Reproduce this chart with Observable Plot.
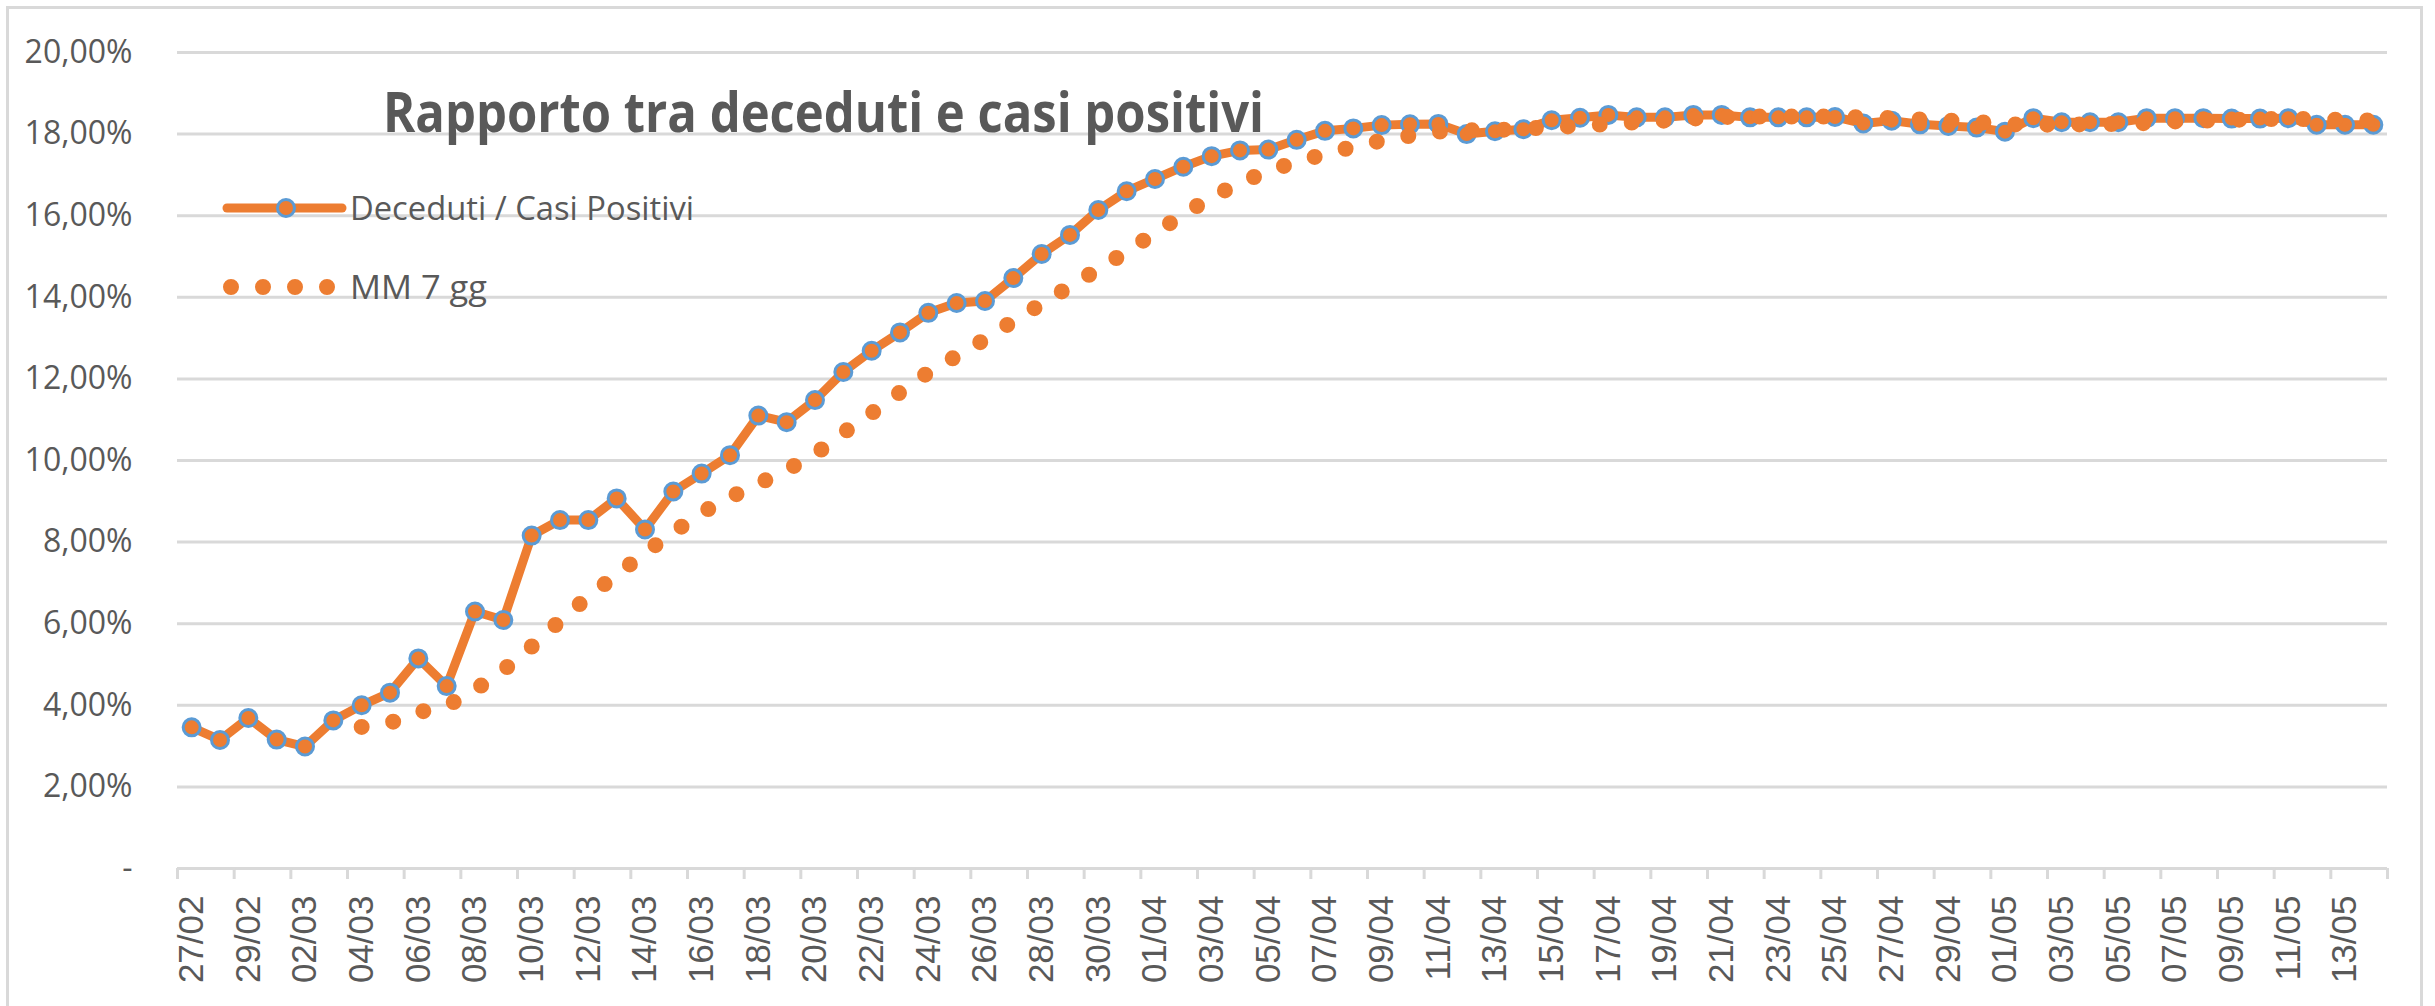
<!DOCTYPE html>
<html><head><meta charset="utf-8">
<script src="https://cdn.jsdelivr.net/npm/d3@7"></script>
<script src="https://cdn.jsdelivr.net/npm/@observablehq/plot@0.6"></script>
<style>
html,body{margin:0;padding:0;background:#fff;}
#wrap{position:relative;width:2435px;height:1006px;overflow:hidden;background:#fff;}
#border{position:absolute;left:6px;top:6px;width:2417px;height:1100px;border:3px solid #D9D9D9;box-sizing:border-box;}
#chart{position:absolute;left:0;top:0;}
#overlay{position:absolute;left:0;top:0;}
</style></head><body>
<div id="wrap">
  <div id="border"></div>
  <div id="chart"></div>
  <svg id="overlay" width="2435" height="1006">
    <text x="383" y="132" font-family="Open Sans" font-weight="700" font-size="56" fill="#595959" textLength="881" lengthAdjust="spacingAndGlyphs">Rapporto tra deceduti e casi positivi</text>
    <line x1="227" y1="208" x2="342" y2="208" stroke="#ED7D31" stroke-width="9" stroke-linecap="round"/>
    <circle cx="286" cy="208" r="8.5" fill="#ED7D31" stroke="#5B9BD5" stroke-width="3"/>
    <text x="350" y="220" font-family="Open Sans" font-size="32" fill="#595959" textLength="344" lengthAdjust="spacingAndGlyphs">Deceduti / Casi Positivi</text>
    <line x1="231" y1="287" x2="330" y2="287" stroke="#ED7D31" stroke-width="16" stroke-linecap="round" stroke-dasharray="0 32"/>
    <text x="350" y="299" font-family="Open Sans" font-size="32" fill="#595959" textLength="137" lengthAdjust="spacingAndGlyphs">MM 7 gg</text>
  </svg>
</div>
<script>
const dates = [
  "27/02","28/02","29/02",
  "01/03","02/03","03/03","04/03","05/03","06/03","07/03","08/03","09/03","10/03",
  "11/03","12/03","13/03","14/03","15/03","16/03","17/03","18/03","19/03","20/03",
  "21/03","22/03","23/03","24/03","25/03","26/03","27/03","28/03","29/03","30/03","31/03",
  "01/04","02/04","03/04","04/04","05/04","06/04","07/04","08/04","09/04","10/04",
  "11/04","12/04","13/04","14/04","15/04","16/04","17/04","18/04","19/04","20/04",
  "21/04","22/04","23/04","24/04","25/04","26/04","27/04","28/04","29/04","30/04",
  "01/05","02/05","03/05","04/05","05/05","06/05","07/05","08/05","09/05","10/05",
  "11/05","12/05","13/05","14/05"
];
// Deceduti / Casi Positivi (%)
const deceduti = [
  3.46, 3.15, 3.69,
  3.16, 2.99, 3.63, 4.00, 4.31, 5.15, 4.47, 6.30, 6.09, 8.16,
  8.54, 8.54, 9.07, 8.31, 9.24, 9.68, 10.13, 11.10, 10.94, 11.48,
  12.17, 12.69, 13.14, 13.62, 13.86, 13.91, 14.47, 15.06, 15.53, 16.14, 16.60,
  16.90, 17.20, 17.46, 17.60, 17.62, 17.86, 18.08, 18.14, 18.22, 18.24,
  18.25, 18.00, 18.07, 18.12, 18.34, 18.40, 18.47, 18.41, 18.41, 18.47,
  18.47, 18.41, 18.41, 18.41, 18.42, 18.26, 18.33, 18.24, 18.20, 18.16,
  18.06, 18.39, 18.29, 18.29, 18.29, 18.39, 18.39, 18.39, 18.38, 18.38,
  18.39, 18.23, 18.23, 18.23
];
// MM 7 gg (%), no value for the first six days
const mm7 = [
  null, null, null,
  null, null, null, 3.47, 3.57, 3.83, 3.98, 4.38, 4.86, 5.44,
  6.07, 6.66, 7.20, 7.74, 8.24, 8.72, 9.10, 9.43, 9.77, 10.15,
  10.68, 11.16, 11.67, 12.16, 12.56, 12.97, 13.42, 13.84, 14.27, 14.69, 15.12,
  15.58, 16.03, 16.46, 16.80, 17.10, 17.32, 17.51, 17.69, 17.84, 17.96,
  18.06, 18.09, 18.10, 18.13, 18.17, 18.20, 18.25, 18.29, 18.33, 18.38,
  18.42, 18.43, 18.43, 18.43, 18.43, 18.41, 18.39, 18.36, 18.33, 18.30,
  18.24, 18.23, 18.23, 18.24, 18.25, 18.27, 18.31, 18.33, 18.35, 18.36,
  18.38, 18.36, 18.35, 18.33
];
const yTicks = [0, 2, 4, 6, 8, 10, 12, 14, 16, 18, 20];

const rows = dates.map((d, i) => ({x: i + 0.5, date: d, v: deceduti[i], m: mm7[i]}));
const mmRows = rows.filter(r => r.m != null);
const boundaryTicks = d3.range(0, dates.length + 1, 2);
const labelTicks = d3.range(0, dates.length, 2).map(i => i + 0.5);
const fmtY = d => d === 0 ? "-" : d.toFixed(2).replace(".", ",") + "%";

const chart = Plot.plot({
  width: 2435,
  height: 1006,
  marginLeft: 177,
  marginRight: 48,
  marginTop: 52,
  marginBottom: 138,
  style: {background: "transparent", fontFamily: "Open Sans", color: "#595959", overflow: "visible"},
  x: {type: "linear", domain: [0, dates.length], axis: null, label: null},
  y: {domain: [0, 20], axis: null, label: null},
  marks: [
    Plot.gridY(yTicks, {stroke: "#D9D9D9", strokeOpacity: 1, strokeWidth: 3}),
    Plot.axisY(yTicks, {label: null, tickSize: 0, tickPadding: 45, tickFormat: fmtY, fontSize: 32, fontFamily: "Open Sans", fill: "#595959"}),
    Plot.axisX(boundaryTicks, {label: null, tickSize: 11, tickFormat: () => "", stroke: "#D9D9D9", strokeWidth: 3, strokeOpacity: 1}),
    Plot.axisX(labelTicks, {label: null, tickSize: 0, tickPadding: 27, tickRotate: -90, tickFormat: t => dates[Math.floor(t)], fontSize: 35, fontFamily: "Liberation Sans", fill: "#595959"}),
    Plot.line(rows, {x: "x", y: "v", stroke: "#ED7D31", strokeWidth: 9, strokeLinejoin: "round", strokeLinecap: "round"}),
    Plot.dot(rows, {x: "x", y: "v", r: 8.5, fill: "#ED7D31", stroke: "#5B9BD5", strokeWidth: 3}),
    Plot.line(mmRows, {x: "x", y: "m", stroke: "#ED7D31", strokeWidth: 16, strokeLinecap: "round", strokeDasharray: "0 32"})
  ]
});
document.getElementById("chart").appendChild(chart);
</script>
</body></html>
